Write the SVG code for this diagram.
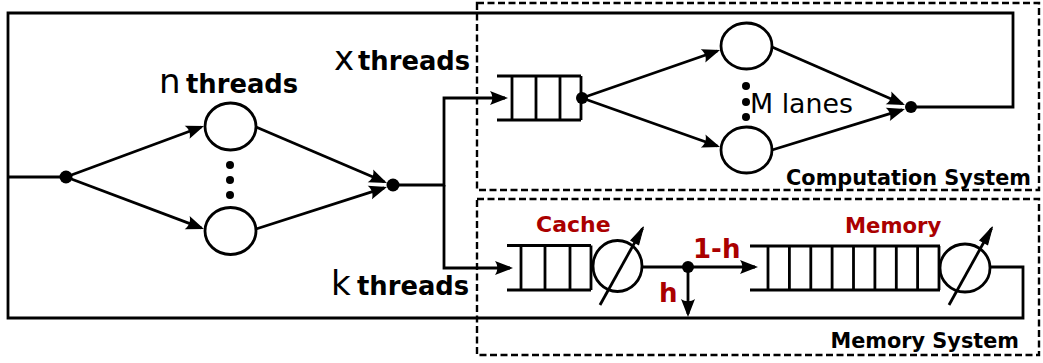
<svg xmlns="http://www.w3.org/2000/svg" width="1043" height="363" viewBox="0 0 1043 363">
<style>
.ln{fill:none;stroke:#000;stroke-width:2.8}
.dash{fill:none;stroke:#000;stroke-width:2.4;stroke-dasharray:7 3.5}
.srv{fill:#fff;stroke:#000;stroke-width:2.8}
.dot{fill:#000}
.big{font-family:"DejaVu Sans",sans-serif;font-size:34px}
.thr{font-family:"DejaVu Sans",sans-serif;font-weight:bold;font-size:25.8px}
.sys{font-family:"DejaVu Sans",sans-serif;font-weight:bold;font-size:20.8px}
.red{font-family:"DejaVu Sans",sans-serif;font-weight:bold;fill:#aa0000}
.lanes{font-family:"DejaVu Sans",sans-serif;font-size:26.8px}
</style>
<defs>
<marker id="arr" markerUnits="userSpaceOnUse" orient="auto" refX="-3" refY="0" viewBox="-20 -8 24 16" markerWidth="24" markerHeight="16" overflow="visible">
<path d="M0,0 L-18,-7 C-15,-2.8 -15,2.8 -18,7 Z" fill="#000"/>
</marker>
<marker id="var" markerUnits="userSpaceOnUse" orient="auto" refX="-2" refY="0" viewBox="-20 -6 24 12" markerWidth="24" markerHeight="12" overflow="visible">
<path d="M0,0 L-18,-4.5 L-18,4.5 Z" fill="#000" stroke="#000" stroke-width="1"/>
</marker>
</defs>

<g id="computation-system-box">
<rect class="dash" x="477" y="3" width="562" height="187"/>
<text class="sys" x="1031" y="185" text-anchor="end">Computation System</text>
</g>
<g id="memory-system-box">
<rect class="dash" x="477" y="199" width="562" height="156"/>
<text class="sys" x="1019" y="348" text-anchor="end" font-size="21.2px">Memory System</text>
</g>

<g id="connectors">
<path class="ln" d="M990,267 H1023 V318 H8 V13 H1013 V107 H911"/>
<path class="ln" d="M8,177 H66"/>
<path class="ln" d="M66,177 L201.2,127" marker-end="url(#arr)"/>
<path class="ln" d="M66,177 L201.2,227.9" marker-end="url(#arr)"/>
<path class="ln" d="M256,127 L384.2,181.8" marker-end="url(#arr)"/>
<path class="ln" d="M256,229 L384.1,187.9" marker-end="url(#arr)"/>
<path class="ln" d="M393,185 H444 V98 H505" marker-end="url(#arr)"/>
<path class="ln" d="M444,185 V268 H510" marker-end="url(#arr)"/>
<path class="ln" d="M582,98 L717.2,51" marker-end="url(#arr)"/>
<path class="ln" d="M582,98 L717.2,146" marker-end="url(#arr)"/>
<path class="ln" d="M772,47 L902.2,103.8" marker-end="url(#arr)"/>
<path class="ln" d="M772,150 L902.1,109.9" marker-end="url(#arr)"/>
<path class="ln" d="M642,267 H755" marker-end="url(#arr)"/>
<path class="ln" d="M688,267 V314" marker-end="url(#arr)"/>
</g>

<g id="fork-dot"><circle class="dot" cx="66" cy="177" r="6.5"/></g>
<g id="join-dot"><circle class="dot" cx="393" cy="185" r="6.5"/></g>

<g id="thread-server-top"><ellipse class="srv" cx="230.5" cy="126.5" rx="25.5" ry="23.5"/></g>
<g id="thread-server-bottom"><ellipse class="srv" cx="230.5" cy="231" rx="25.5" ry="23.5"/></g>
<g id="thread-dots">
<circle class="dot" cx="230" cy="165" r="4"/>
<circle class="dot" cx="230" cy="180" r="4"/>
<circle class="dot" cx="230" cy="195" r="4"/>
</g>
<g id="n-threads-label">
<text class="big" x="159" y="93">n</text>
<text class="thr" x="186" y="93">threads</text>
</g>
<g id="x-threads-label">
<text class="big" x="334" y="70">x</text>
<text class="thr" x="358" y="70">threads</text>
</g>
<g id="k-threads-label">
<text class="big" x="331" y="295">k</text>
<text class="thr" x="357" y="295">threads</text>
</g>

<g id="compute-queue">
<path class="ln" d="M497,76 H581 M497,120 H581 M512,76 V120 M536,76 V120 M560,76 V120 M581,76 V120"/>
<circle class="dot" cx="582" cy="98" r="6"/>
</g>
<g id="lane-top"><ellipse class="srv" cx="746.5" cy="46" rx="25.5" ry="23"/></g>
<g id="lane-bottom"><ellipse class="srv" cx="746.5" cy="150" rx="25.5" ry="23"/></g>
<g id="lane-dots">
<circle class="dot" cx="746" cy="86" r="4"/>
<circle class="dot" cx="746" cy="102" r="4"/>
<circle class="dot" cx="746" cy="117" r="4"/>
<text class="lanes" x="750" y="113">M lanes</text>
</g>
<g id="compute-merge-dot"><circle class="dot" cx="911" cy="107" r="6"/></g>

<g id="cache">
<path class="ln" d="M507,245.5 H591 M507,290 H591 M521,245.5 V290 M545,245.5 V290 M570,245.5 V290 M591,245.5 V290"/>
<ellipse class="srv" cx="617.5" cy="266" rx="24.5" ry="25.5"/>
<path class="ln" d="M600,305 L642.5,228.5" marker-end="url(#var)"/>
<text class="red" x="536" y="232" font-size="22px">Cache</text>
</g>
<g id="hit-split">
<circle class="dot" cx="688" cy="267" r="6"/>
<text class="red" x="693" y="258" font-size="26px">1-h</text>
<text class="red" x="659" y="302" font-size="26px">h</text>
</g>
<g id="memory">
<path class="ln" d="M750,246 H940 M750,290 H940 M768,246 V290 M789.4,246 V290 M810.8,246 V290 M832.1,246 V290 M853.5,246 V290 M874.9,246 V290 M896.3,246 V290 M917.6,246 V290 M939,246 V290"/>
<ellipse class="srv" cx="965" cy="268" rx="25" ry="24"/>
<path class="ln" d="M949,305 L991.5,228.5" marker-end="url(#var)"/>
<text class="red" x="845" y="233" font-size="21.2px">Memory</text>
</g>
</svg>
